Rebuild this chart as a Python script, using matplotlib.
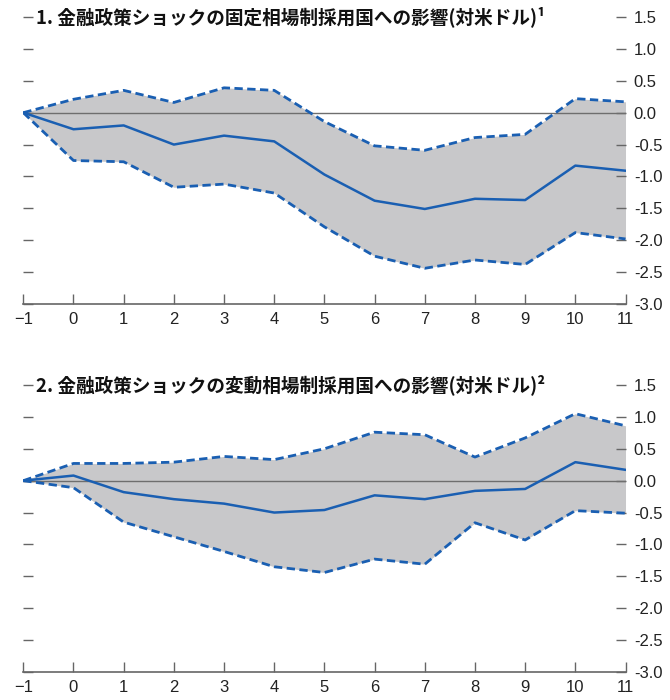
import numpy as np
import matplotlib
matplotlib.use("Agg")
import matplotlib.pyplot as plt
from matplotlib import font_manager

# fonts: condensed latin for the ticks if present, CJK for titles
names = set(f.name for f in font_manager.fontManager.ttflist)
tick_font = 'Liberation Sans Narrow' if 'Liberation Sans Narrow' in names else 'Liberation Sans'
plt.rcParams['font.family'] = [tick_font, 'DejaVu Sans']
title_font = ['Noto Sans CJK JP', 'DejaVu Sans']

# "======================================"
# data
# "======================================"
horizon = [-1, 0, 1, 2, 3, 4, 5, 6, 7, 8, 9, 10, 11]

fixed_mid = [0, -0.26, -0.20, -0.50, -0.36, -0.45, -0.97, -1.38, -1.51, -1.35, -1.37, -0.83, -0.91]
fixed_up = [0, 0.21, 0.35, 0.16, 0.39, 0.35, -0.14, -0.52, -0.59, -0.39, -0.34, 0.22, 0.17]
fixed_lo = [0, -0.75, -0.77, -1.17, -1.12, -1.26, -1.79, -2.25, -2.44, -2.31, -2.38, -1.88, -1.98]

float_mid = [0, 0.08, -0.18, -0.29, -0.36, -0.50, -0.46, -0.23, -0.29, -0.16, -0.13, 0.29, 0.17]
float_up = [0, 0.27, 0.27, 0.29, 0.38, 0.33, 0.50, 0.76, 0.72, 0.37, 0.67, 1.05, 0.86]
float_lo = [0, -0.11, -0.65, -0.88, -1.11, -1.35, -1.44, -1.23, -1.31, -0.66, -0.93, -0.47, -0.51]

titles = ['1. 金融政策ショックの固定相場制採用国への影響(対米ドル)¹',
          '2. 金融政策ショックの変動相場制採用国への影響(対米ドル)²']

yticks = [1.5, 1.0, 0.5, 0.0, -0.5, -1.0, -1.5, -2.0, -2.5, -3.0]

blue = '#1a5fb2'
fill = '#c8c8ca'
axis_gray = '#666666'

fig = plt.figure(figsize=(6.7, 7.0), dpi=100)
ax1 = fig.add_axes([0.0348, 0.5657, 0.8988, 0.41])
ax2 = fig.add_axes([0.0348, 0.04, 0.8988, 0.41])

panels = [(ax1, fixed_mid, fixed_up, fixed_lo, titles[0]),
          (ax2, float_mid, float_up, float_lo, titles[1])]

for ax, mid, up, lo, ttl in panels:
    ax.fill_between(horizon, lo, up, color=fill, lw=0, zorder=1)
    ax.axhline(0, color='#6e6e6e', lw=1.0, zorder=2)
    ax.plot(horizon, up, color=blue, lw=2.0, ls=(0, (3.0, 1.6)), zorder=3)
    ax.plot(horizon, lo, color=blue, lw=2.0, ls=(0, (3.0, 1.6)), zorder=3)
    ax.plot(horizon, mid, color=blue, lw=1.8, zorder=4)

    ax.set_xlim(-1, 11)
    ax.set_ylim(-3.0, 1.5)
    ax.set_xticks(horizon)
    ax.set_yticks(yticks)
    ax.set_yticklabels(['%.1f' % v if v != 0 else '0.0' for v in yticks])

    for s in ['top', 'left', 'right']:
        ax.spines[s].set_visible(False)
    ax.spines['bottom'].set_color(axis_gray)
    ax.spines['bottom'].set_linewidth(1.2)

    ax.tick_params(axis='x', direction='in', length=7, width=1.0, color=axis_gray,
                   labelsize=12, pad=6, labelcolor='#222222')
    ax.tick_params(axis='y', direction='in', length=7, width=1.0, color=axis_gray,
                   left=True, right=True, labelleft=False, labelright=True,
                   labelsize=12, pad=6, labelcolor='#222222')

    ax.text(-0.75, 1.5, ttl, fontsize=13.4, fontweight='bold', family=title_font,
            va='center', ha='left', color='#111111')

fig.savefig('out.png', dpi=100)
